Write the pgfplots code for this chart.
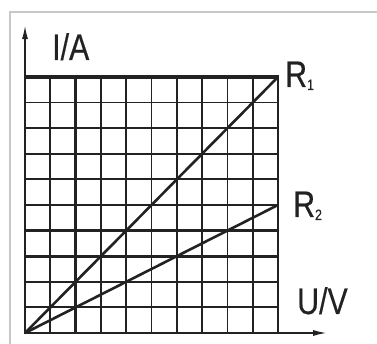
\documentclass[border=0pt]{standalone}
\usepackage{graphicx}
\usepackage{pgfplots}
\pgfplotsset{compat=1.18}
\usepackage{fontspec}
\setmainfont{Liberation Sans}
\newfontfamily\labfont[FakeBold=0.4]{Liberation Sans}
\usetikzlibrary{arrows.meta}
\definecolor{ink}{HTML}{222222}
\definecolor{framegray}{HTML}{C8C8C8}

% condensed sans labels
\newcommand\lab[1]{\scalebox{0.82}[1]{\labfont\fontsize{37}{37}\selectfont #1}}
\newcommand\sub[1]{\raisebox{-3pt}{\fontsize{15}{15}\selectfont #1}}

\begin{document}
\begin{tikzpicture}
\useasboundingbox (0,0) rectangle (377pt,344pt);
% light frame around the figure
\draw[framegray, line width=1.5pt] (10pt,-5pt) -- (10pt,332pt) -- (390pt,332pt);
\begin{axis}[
  at={(25pt,11pt)}, anchor=south west,
  x=25.3pt, y=25.6pt,
  xmin=0, xmax=10, ymin=0, ymax=10,
  xtick={0,...,10}, ytick={0,...,10},
  xticklabels={}, yticklabels={},
  major tick length=0pt,
  grid=major, grid style={ink, line width=1.8pt},
  axis line style={ink, line width=1.8pt},
  clip=false,
]
% heavier grid lines
\draw[ink, line width=3.3pt] (axis cs:2,0) -- (axis cs:2,10);
\draw[ink, line width=3.3pt] (axis cs:0,3) -- (axis cs:10,3);
\draw[ink, line width=3.3pt] (axis cs:0,4) -- (axis cs:10,4);
\draw[ink, line width=3.3pt] (axis cs:-0.05,10) -- (axis cs:10.05,10);
% axes with arrows
\draw[ink, line width=1.8pt, -{Latex[length=14pt,width=6pt]}] (axis cs:0,0) -- (axis cs:0,12.03);
\draw[ink, line width=1.8pt, -{Latex[length=14pt,width=6pt]}] (axis cs:0,0) -- (axis cs:11.94,0);
% I-U characteristics
\addplot[ink, line width=2.6pt] coordinates {(0,0) (10,10)};
\addplot[ink, line width=2.6pt] coordinates {(0,0) (10,5)};
\end{axis}
\node[anchor=base west, inner sep=0pt, text=ink] at (52pt,284pt) {\lab{I/A}};
\node[anchor=base west, inner sep=0pt, text=ink] at (285pt,257pt) {\lab{R\sub{1}}};
\node[anchor=base west, inner sep=0pt, text=ink] at (293pt,127pt) {\lab{R\sub{2}}};
\node[anchor=base west, inner sep=0pt, text=ink] at (297pt,30pt) {\lab{U/V}};
\end{tikzpicture}
\end{document}
